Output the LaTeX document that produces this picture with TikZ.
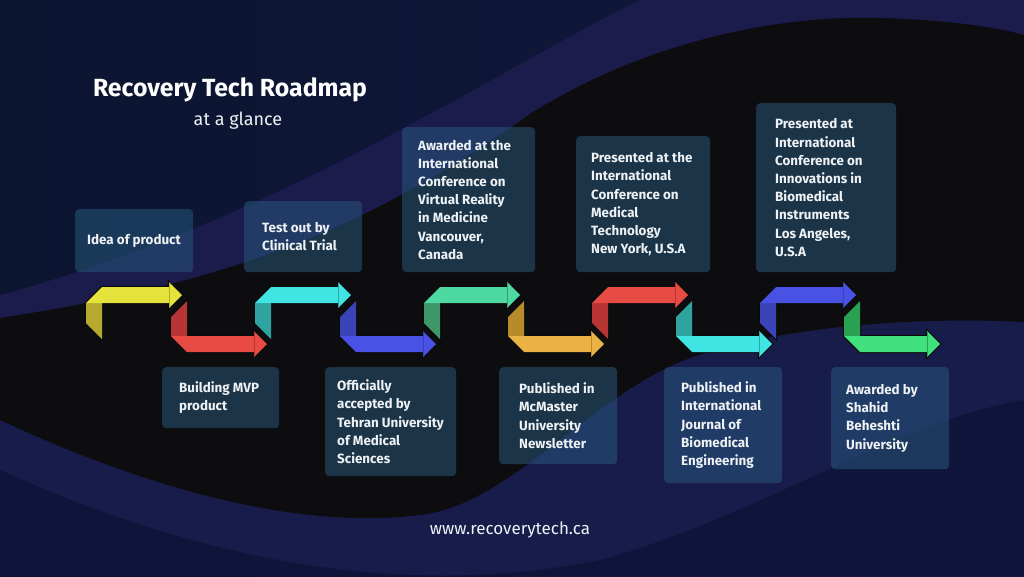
\documentclass[tikz,border=0pt]{standalone}
\usepackage{fontspec}
\setmainfont{Fira Sans}
\definecolor{navyc}{RGB}{11,21,48}
\definecolor{navyr}{RGB}{17,24,62}
\definecolor{bandc}{RGB}{27,28,76}
\definecolor{blackc}{RGB}{13,13,16}
\definecolor{lowbandc}{RGB}{24,28,74}
\definecolor{bottomc}{RGB}{15,21,58}
\definecolor{boxc}{RGB}{41,91,128}
\definecolor{txtc}{RGB}{238,242,245}
\definecolor{outl}{RGB}{10,10,12}
\definecolor{yelB}{RGB}{230,226,60}\definecolor{yelD}{RGB}{181,170,47}
\definecolor{redB}{RGB}{232,74,68}\definecolor{redD}{RGB}{184,53,53}
\definecolor{cyaB}{RGB}{64,228,226}\definecolor{cyaD}{RGB}{47,163,160}
\definecolor{bluB}{RGB}{74,82,230}\definecolor{bluD}{RGB}{59,67,184}
\definecolor{minB}{RGB}{78,216,162}\definecolor{minD}{RGB}{63,152,104}
\definecolor{oraB}{RGB}{234,178,69}\definecolor{oraD}{RGB}{184,138,42}
\definecolor{grnB}{RGB}{64,224,124}\definecolor{grnD}{RGB}{42,161,82}
\tikzset{
  box/.style={rectangle, rounded corners=4pt, fill=boxc, fill opacity=0.5, draw=none, anchor=north west, inner sep=0pt},
  txt/.style={anchor=west, align=left, inner sep=0pt, text=txtc, font=\bfseries\fontsize{13.4}{18.2}\selectfont},
  arrline/.style={draw=outl, line width=2.2pt, line join=miter},
}
\newcommand{\uparr}[3]{%
  \filldraw[arrline, fill=#2] (#1,303) -- (#1+16,287) -- (#1+83,287) -- (#1+83,282) -- (#1+96,295) -- (#1+83,308) -- (#1+83,303) -- (#1+16,303) -- (#1+16,339) -- (#1,323) -- cycle;
  \fill[#3] (#1,303) -- (#1+16,303) -- (#1+16,339) -- (#1,323) -- cycle;
  \fill[#2] (#1,303) -- (#1+16,287) -- (#1+83,287) -- (#1+83,282) -- (#1+96,295) -- (#1+83,308) -- (#1+83,303) -- cycle;
  \draw[#3, line width=0.8pt] (#1+83,283) -- (#1+83,307);
}
\newcommand{\lowarr}[3]{%
  \filldraw[arrline, fill=#2] (#1,317) -- (#1+16,301) -- (#1+16,336) -- (#1+83,336) -- (#1+83,331) -- (#1+96,344) -- (#1+83,357) -- (#1+83,352) -- (#1+16,352) -- (#1,336) -- cycle;
  \fill[#3] (#1,317) -- (#1+16,301) -- (#1+16,336) -- (#1,336) -- cycle;
  \fill[#2] (#1,336) -- (#1+83,336) -- (#1+83,331) -- (#1+96,344) -- (#1+83,357) -- (#1+83,352) -- (#1+16,352) -- cycle;
  \draw[#3, line width=0.8pt] (#1+83,332) -- (#1+83,356);
}
\begin{document}
\begin{tikzpicture}[x=1pt, y=-1pt]
\useasboundingbox (0,0) rectangle (1024,576);
% background
\shade[left color=navyc, right color=navyr] (0,0) rectangle (1024,576);
\fill[bandc] (0,295) .. controls (150,255) and (300,185) .. (400,130) .. controls (480,88) and (560,40) .. (640,0) -- (1024,0) -- (1024,35) .. controls (1000,28) and (950,20) .. (880,18) .. controls (780,15) and (650,40) .. (533,112) .. controls (380,220) and (250,280) .. (0,318) -- cycle;
\fill[lowbandc] (0,400) -- (1024,300) -- (1024,576) -- (0,576) -- cycle;
\fill[bottomc] (0,470) .. controls (200,560) and (400,600) .. (600,560) .. controls (750,520) and (900,420) .. (1024,400) -- (1024,576) -- (0,576) -- cycle;
\fill[blackc] (0,318) .. controls (250,280) and (380,220) .. (533,112) .. controls (650,40) and (780,15) .. (880,18) .. controls (950,20) and (1000,28) .. (1024,35) -- (1024,322) .. controls (950,318) and (800,320) .. (690,358) .. controls (590,395) and (510,505) .. (420,515) .. controls (300,530) and (150,490) .. (0,420) -- cycle;

% titles
\node[text=white, font=\bfseries\fontsize{24.8}{29}\selectfont] (title) at (230,90) {Recovery Tech Roadmap};
\node[text=txtc, font=\fontsize{18}{22}\selectfont] (sub) at (238,121) {at a glance};
\node[text=txtc, font=\fontsize{17}{20}\selectfont] (url) at (510,530) {www.recoverytech.ca};

% upper boxes
\node[box, minimum width=118pt, minimum height=63pt] (b1) at (75,209) {};
\node[txt] (t1) at ([xshift=12pt]b1.west) {Idea of product};
\node[box, minimum width=118pt, minimum height=71pt] (b2) at (244,201) {};
\node[txt] (t2) at ([xshift=18pt]b2.west) {Test out by\\Clinical Trial};
\node[box, minimum width=133pt, minimum height=145pt] (b3) at (402,127) {};
\node[txt] (t3) at ([xshift=16pt]b3.west) {Awarded at the\\International\\Conference on\\Virtual Reality\\in Medicine\\Vancouver,\\Canada};
\node[box, minimum width=134pt, minimum height=136pt] (b4) at (576,136) {};
\node[txt] (t4) at ([xshift=15pt]b4.west) {Presented at the\\International\\Conference on\\Medical\\Technology\\New York, U.S.A};
\node[box, minimum width=140pt, minimum height=169pt] (b5) at (756,103) {};
\node[txt] (t5) at ([xshift=19pt]b5.west) {Presented at\\International\\Conference on\\Innovations in\\Biomedical\\Instruments\\Los Angeles,\\U.S.A};

% lower boxes
\node[box, minimum width=117pt, minimum height=61pt] (b6) at (162,367) {};
\node[txt] (t6) at ([xshift=17pt]b6.west) {Building MVP\\product};
\node[box, minimum width=131pt, minimum height=109pt] (b7) at (325,367) {};
\node[txt] (t7) at ([xshift=12pt]b7.west) {Officially\\accepted by\\Tehran University\\of Medical\\Sciences};
\node[box, minimum width=118pt, minimum height=97pt] (b8) at (499,367) {};
\node[txt] (t8) at ([xshift=20pt]b8.west) {Published in\\McMaster\\University\\Newsletter};
\node[box, minimum width=118pt, minimum height=116pt] (b9) at (664,367) {};
\node[txt] (t9) at ([xshift=17pt]b9.west) {Published in\\International\\Journal of\\Biomedical\\Engineering};
\node[box, minimum width=118pt, minimum height=102pt] (b10) at (831,367) {};
\node[txt] (t10) at ([xshift=15pt]b10.west) {Awarded by\\Shahid\\Beheshti\\University};

% arrows
\uparr{86}{yelB}{yelD}
\lowarr{171}{redB}{redD}
\uparr{255}{cyaB}{cyaD}
\lowarr{340}{bluB}{bluD}
\uparr{424}{minB}{minD}
\lowarr{508}{oraB}{oraD}
\uparr{592}{redB}{redD}
\lowarr{676}{cyaB}{cyaD}
\uparr{760}{bluB}{bluD}
\lowarr{844}{grnB}{grnD}
\end{tikzpicture}
\end{document}
